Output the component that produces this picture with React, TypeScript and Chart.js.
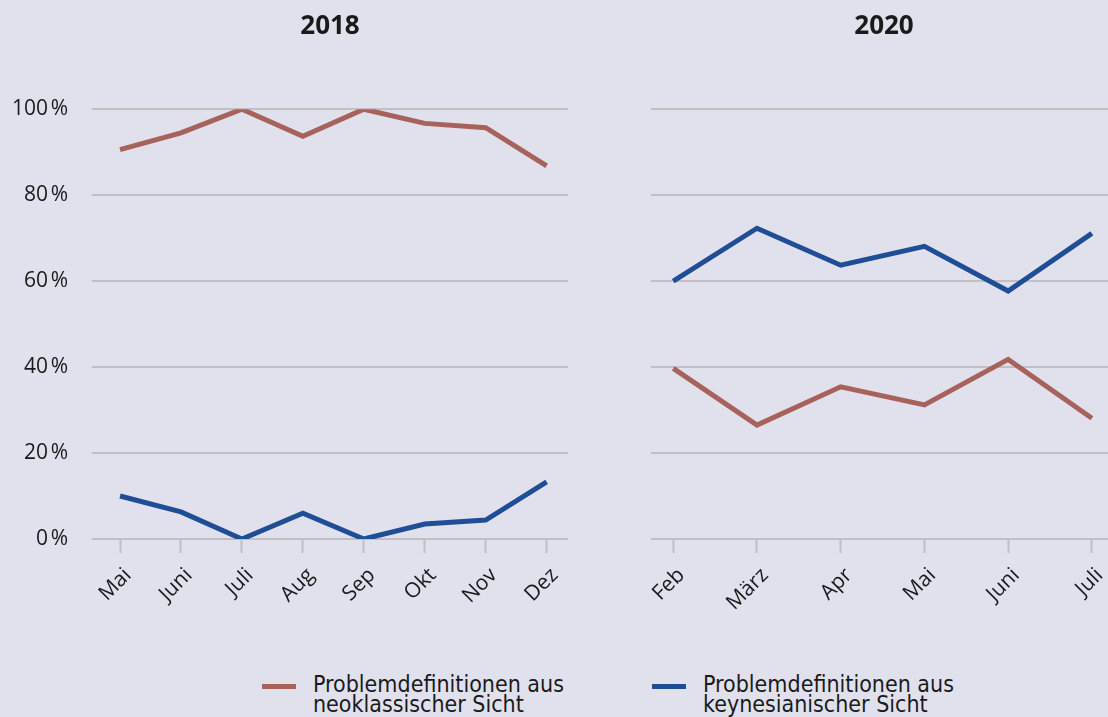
import React, { useEffect, useRef } from "react";
import { Chart, registerables } from "chart.js";

Chart.register(...registerables);

const months2018 = ["Mai", "Juni", "Juli", "Aug", "Sep", "Okt", "Nov", "Dez"];
const neo2018 = [90.6, 94.5, 100, 93.7, 100, 96.7, 95.7, 86.8];
const keyn2018 = [10.0, 6.3, 0, 6.0, 0, 3.5, 4.4, 13.3];

const months2020 = ["Feb", "März", "Apr", "Mai", "Juni", "Juli"];
const neo2020 = [39.7, 26.5, 35.4, 31.2, 41.8, 28.1];
const keyn2020 = [60.0, 72.3, 63.7, 68.1, 57.7, 71.1];

const yTicks = [0, 20, 40, 60, 80, 100];
const legendLabels = [
  ["Problemdefinitionen aus", "neoklassischer Sicht"],
  ["Problemdefinitionen aus", "keynesianischer Sicht"],
];

const RED = "#a8625c";
const BLUE = "#1f4e96";
const GRID = "#bfbfc4";
const BG = "#e1e1ee";
const TEXT = "#1a1a1a";
const FONT = "'Open Sans', 'Noto Sans', sans-serif";

type PanelProps = {
  title: string;
  labels: string[];
  neo: number[];
  keyn: number[];
  width: number;
  height: number;
  showY: boolean;
  yWidth: number;
  padRight: number;
  xMin: number;
  xMax: number;
};

function Panel(p: PanelProps) {
  const ref = useRef<HTMLCanvasElement | null>(null);
  useEffect(() => {
    if (!ref.current) return;
    const toPts = (arr: number[]) => arr.map((v, i) => ({ x: i, y: v }));
    const chart = new Chart(ref.current, {
      type: "line",
      data: {
        datasets: [
          {
            label: "neo",
            data: toPts(p.neo),
            borderColor: RED,
            backgroundColor: RED,
            borderWidth: 5,
            pointRadius: 0,
            tension: 0,
            borderJoinStyle: "miter",
          },
          {
            label: "keyn",
            data: toPts(p.keyn),
            borderColor: BLUE,
            backgroundColor: BLUE,
            borderWidth: 5,
            pointRadius: 0,
            tension: 0,
            borderJoinStyle: "miter",
          },
        ],
      },
      options: {
        responsive: false,
        animation: false,
        layout: { padding: { top: 0, right: p.padRight, bottom: 0, left: 0 } },
        plugins: {
          legend: { display: false },
          tooltip: { enabled: false },
          title: {
            display: true,
            text: p.title,
            fullSize: false,
            color: TEXT,
            font: { family: FONT, size: 26, weight: "bold" },
            padding: { top: 11, bottom: 67 },
          },
        },
        scales: {
          x: {
            type: "linear",
            min: p.xMin,
            max: p.xMax,
            afterBuildTicks: (scale: any) => {
              scale.ticks = p.labels.map((_, i) => ({ value: i }));
            },
            afterFit: (scale: any) => {
              scale.height = 101;
            },
            border: { display: false },
            grid: {
              drawOnChartArea: false,
              drawTicks: true,
              tickLength: 14,
              tickColor: GRID,
              tickWidth: 2,
              color: GRID,
            },
            ticks: {
              autoSkip: false,
              minRotation: 45,
              maxRotation: 45,
              padding: 10,
              labelOffset: 8,
              color: TEXT,
              font: { family: FONT, size: 21 },
              callback: (v: any) => p.labels[Math.round(Number(v))],
            },
          },
          y: {
            min: 0,
            max: 100,
            afterBuildTicks: (scale: any) => {
              scale.ticks = yTicks.map((v) => ({ value: v }));
            },
            afterFit: (scale: any) => {
              scale.width = p.yWidth;
            },
            border: { display: false },
            grid: { color: GRID, lineWidth: 2, drawTicks: false },
            ticks: {
              display: p.showY,
              padding: 24,
              color: TEXT,
              font: { family: FONT, size: 21 },
              callback: (v: any) => v + "\u202f%",
            },
          },
        },
      },
    } as any);
    return () => chart.destroy();
  }, []);
  return <canvas ref={ref} width={p.width} height={p.height} style={{ display: "block" }} />;
}

export default function App() {
  return (
    <div
      style={{
        position: "fixed",
        left: 0,
        top: 0,
        width: 1108,
        height: 717,
        background: BG,
        overflow: "hidden",
      }}
    >
      <div style={{ position: "absolute", left: 0, top: 0 }}>
        <Panel
          title="2018"
          labels={months2018}
          neo={neo2018}
          keyn={keyn2018}
          width={600}
          height={640}
          showY={true}
          yWidth={92}
          padRight={32}
          xMin={-0.46}
          xMax={7.35}
        />
      </div>
      <div style={{ position: "absolute", left: 600, top: 0 }}>
        <Panel
          title="2020"
          labels={months2020}
          neo={neo2020}
          keyn={keyn2020}
          width={540}
          height={640}
          showY={false}
          yWidth={51}
          padRight={23}
          xMin={-0.266}
          xMax={5.3}
        />
      </div>
      {legendLabels.map((lines, i) => (
        <div
          key={i}
          style={{
            position: "absolute",
            left: i === 0 ? 262 : 652,
            top: 674,
            display: "flex",
            alignItems: "flex-start",
          }}
        >
          <div
            style={{
              width: 34,
              height: 5,
              marginTop: 10,
              background: i === 0 ? RED : BLUE,
            }}
          />
          <div
            style={{
              marginLeft: 17,
              fontFamily: "'Liberation Sans Narrow', 'DejaVu Sans Condensed', sans-serif",
              fontSize: 23,
              lineHeight: "20px",
              color: TEXT,
            }}
          >
            {lines.map((l, j) => (
              <div key={j}>{l}</div>
            ))}
          </div>
        </div>
      ))}
    </div>
  );
}
